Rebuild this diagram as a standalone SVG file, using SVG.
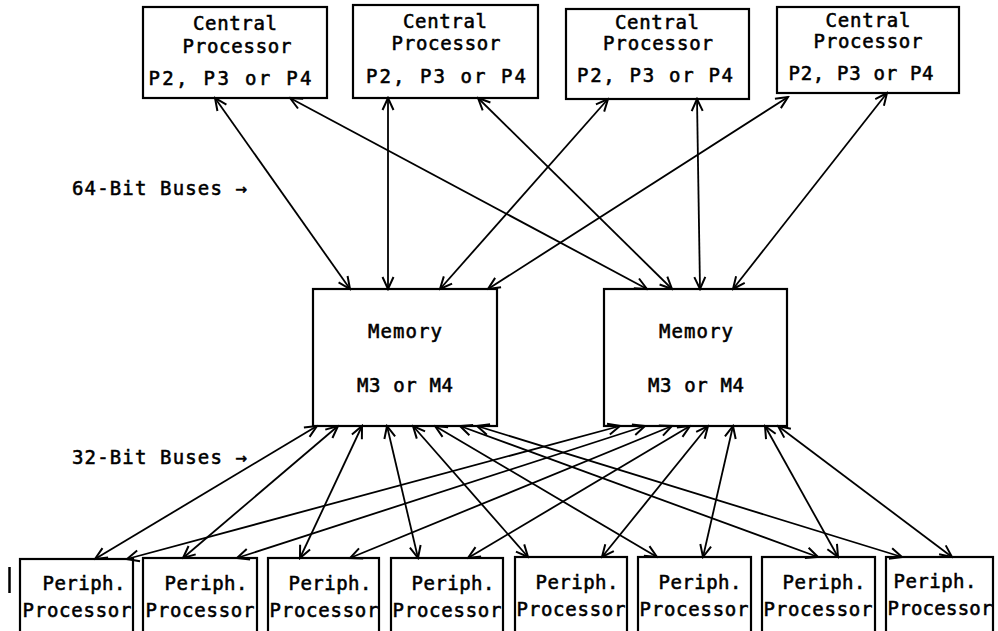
<svg xmlns="http://www.w3.org/2000/svg" width="998" height="631" viewBox="0 0 998 631">
<style>
.box{fill:#fff;stroke:#000;stroke-width:2.2}
.t{font-family:"DejaVu Sans Mono","Liberation Mono",monospace;font-size:19px;fill:#000;stroke:#000;stroke-width:0.55;text-anchor:middle}
.lbl{font-family:"DejaVu Sans Mono","Liberation Mono",monospace;font-size:19px;fill:#000;stroke:#000;stroke-width:0.55}
.c line{stroke:#000;stroke-width:1.8;marker-start:url(#ah);marker-end:url(#ah)}
</style>
<defs>
<marker id="ah" viewBox="-13 -7 15 14" refX="0" refY="0" markerWidth="15" markerHeight="14" markerUnits="userSpaceOnUse" orient="auto-start-reverse">
<path d="M-12,-5.5 L0,0 L-12,5.5" fill="none" stroke="#000" stroke-width="2"/>
</marker>
</defs>
<rect width="998" height="631" fill="#fff"/>
<g id="cp1"><rect class="box" x="143" y="7" width="184" height="91"/>
<text class="t" x="235" y="30" textLength="84">Central</text>
<text class="t" x="237" y="53" textLength="109">Processor</text>
<text class="t" x="230" y="85" textLength="163">P2, P3 or P4</text></g>
<g id="cp2"><rect class="box" x="353" y="5" width="185" height="93"/>
<text class="t" x="445" y="28" textLength="84">Central</text>
<text class="t" x="446" y="50" textLength="109">Processor</text>
<text class="t" x="446" y="83" textLength="160">P2, P3 or P4</text></g>
<g id="cp3"><rect class="box" x="566" y="9" width="183" height="90"/>
<text class="t" x="657" y="29" textLength="84">Central</text>
<text class="t" x="658" y="50" textLength="110">Processor</text>
<text class="t" x="655" y="82" textLength="156">P2, P3 or P4</text></g>
<g id="cp4"><rect class="box" x="777" y="7" width="182" height="86"/>
<text class="t" x="868" y="27" textLength="85">Central</text>
<text class="t" x="868" y="48" textLength="109">Processor</text>
<text class="t" x="861" y="80" textLength="145">P2, P3 or P4</text></g>
<g id="mem1"><rect class="box" x="313" y="289" width="184" height="137"/>
<text class="t" x="405" y="338" textLength="74">Memory</text>
<text class="t" x="405" y="392" textLength="96">M3 or M4</text></g>
<g id="mem2"><rect class="box" x="604" y="289" width="183" height="137"/>
<text class="t" x="696" y="338" textLength="74">Memory</text>
<text class="t" x="696" y="392" textLength="96">M3 or M4</text></g>
<g id="pp1"><rect class="box" x="20" y="559" width="113" height="82"/>
<text class="t" x="84" y="590" textLength="83">Periph.</text>
<text class="t" x="77" y="617" textLength="109">Processor</text></g>
<g id="pp2"><rect class="box" x="143" y="558" width="114" height="83"/>
<text class="t" x="206" y="590" textLength="83">Periph.</text>
<text class="t" x="200" y="617" textLength="109">Processor</text></g>
<g id="pp3"><rect class="box" x="268" y="558" width="111" height="83"/>
<text class="t" x="330" y="590" textLength="83">Periph.</text>
<text class="t" x="324" y="617" textLength="109">Processor</text></g>
<g id="pp4"><rect class="box" x="391" y="558" width="112" height="83"/>
<text class="t" x="453" y="590" textLength="83">Periph.</text>
<text class="t" x="447" y="617" textLength="109">Processor</text></g>
<g id="pp5"><rect class="box" x="515" y="557" width="112" height="84"/>
<text class="t" x="577" y="589" textLength="83">Periph.</text>
<text class="t" x="571" y="616" textLength="109">Processor</text></g>
<g id="pp6"><rect class="box" x="638" y="557" width="113" height="84"/>
<text class="t" x="700" y="589" textLength="83">Periph.</text>
<text class="t" x="694" y="616" textLength="109">Processor</text></g>
<g id="pp7"><rect class="box" x="762" y="557" width="113" height="84"/>
<text class="t" x="824" y="589" textLength="83">Periph.</text>
<text class="t" x="818" y="616" textLength="109">Processor</text></g>
<g id="pp8"><rect class="box" x="886" y="557" width="107" height="84"/>
<text class="t" x="935" y="588" textLength="83">Periph.</text>
<text class="t" x="940" y="615" textLength="105">Processor</text></g>
<g id="labels">
<text class="lbl" x="72" y="195" textLength="175">64-Bit Buses →</text>
<text class="lbl" x="72" y="464" textLength="175">32-Bit Buses →</text>
<line x1="9.5" y1="567" x2="9.5" y2="593" stroke="#000" stroke-width="2.5"/>
</g>
<g id="connectors" class="c">
<line x1="215" y1="98" x2="350" y2="289"/>
<line x1="290" y1="98" x2="647" y2="289"/>
<line x1="388" y1="98" x2="388" y2="289"/>
<line x1="478" y1="98" x2="672" y2="289"/>
<line x1="608" y1="99" x2="440" y2="289"/>
<line x1="697" y1="99" x2="700" y2="289"/>
<line x1="788" y1="97" x2="488" y2="289"/>
<line x1="887" y1="93" x2="733" y2="289"/>
<line x1="317" y1="426" x2="95" y2="559"/>
<line x1="338" y1="426" x2="183" y2="558"/>
<line x1="362" y1="426" x2="300" y2="558"/>
<line x1="387" y1="426" x2="418" y2="558"/>
<line x1="413" y1="426" x2="528" y2="557"/>
<line x1="435" y1="426" x2="657" y2="557"/>
<line x1="460" y1="426" x2="818" y2="557"/>
<line x1="477" y1="426" x2="902" y2="557"/>
<line x1="620" y1="426" x2="127" y2="559"/>
<line x1="645" y1="426" x2="237" y2="558"/>
<line x1="672" y1="426" x2="350" y2="558"/>
<line x1="690" y1="426" x2="468" y2="558"/>
<line x1="708" y1="426" x2="602" y2="557"/>
<line x1="733" y1="426" x2="703" y2="557"/>
<line x1="765" y1="426" x2="838" y2="557"/>
<line x1="778" y1="426" x2="952" y2="557"/>
</g>
</svg>
